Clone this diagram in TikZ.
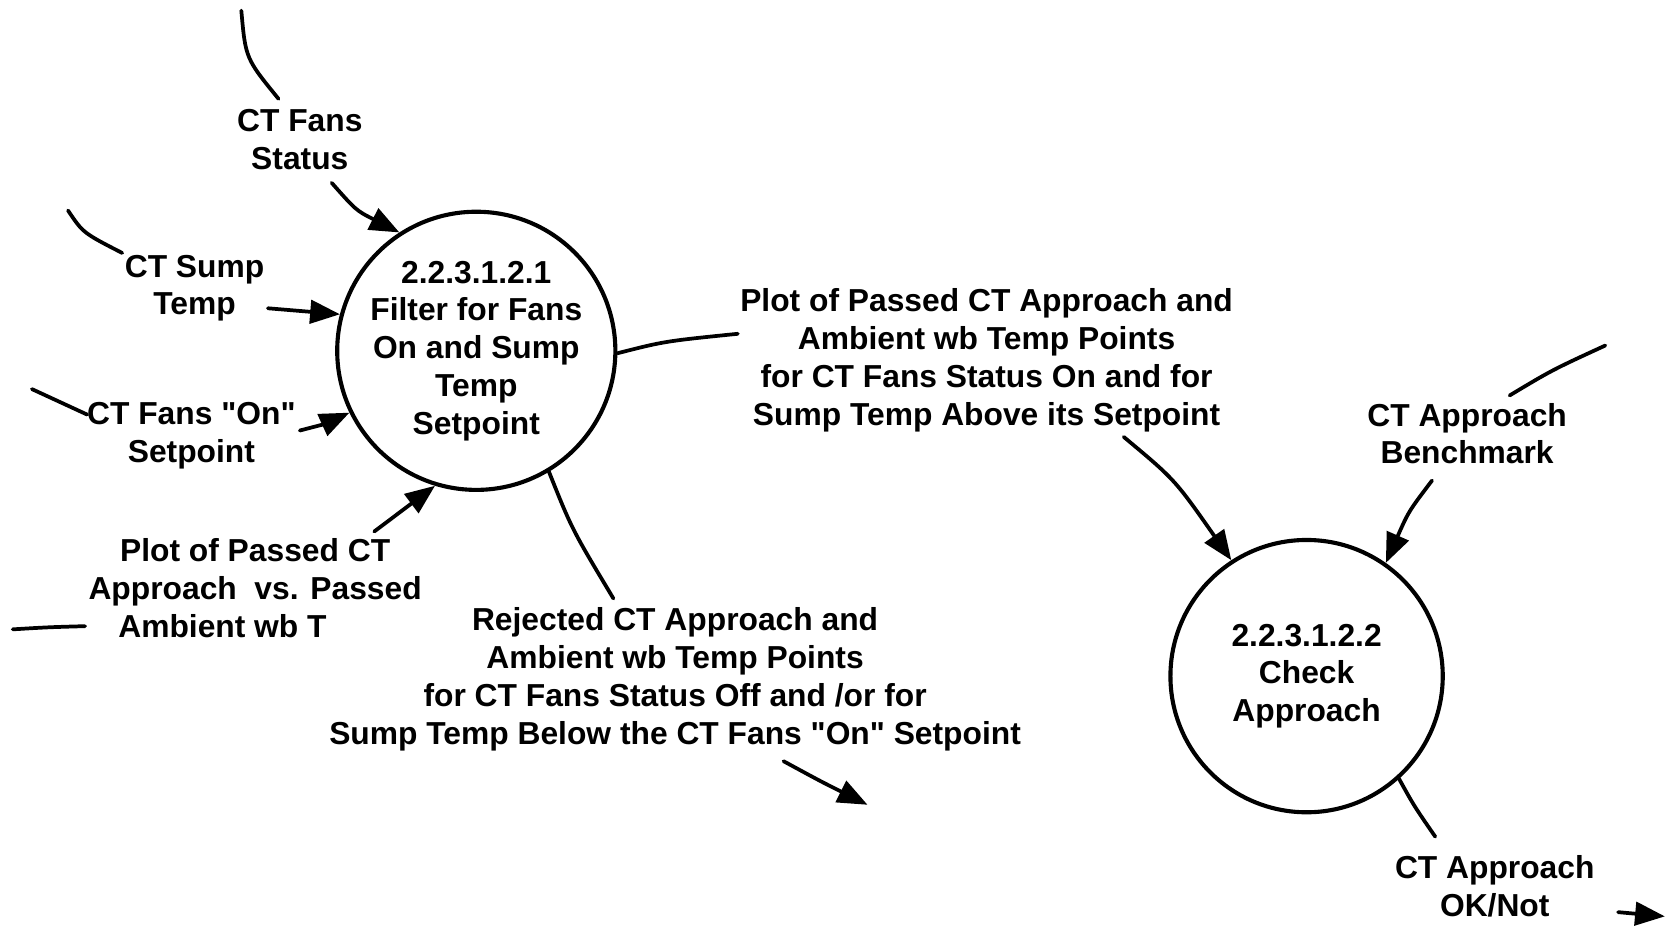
\documentclass[tikz,border=0pt]{standalone}
\usepackage{fontspec}
\setmainfont{Liberation Sans}[Ligatures=TeXOff]
\usetikzlibrary{arrows.meta}

\begin{document}
\begin{tikzpicture}[x=0.01cm, y=0.01cm,
		process/.style={draw, circle, line width=1.1pt, minimum size=2.56cm, inner sep=0pt, align=center, font=\bfseries\fontsize{8.5}{10.1}\selectfont},
		flowlabel/.style={align=center, inner sep=0pt, font=\bfseries\fontsize{8.5}{10.1}\selectfont},
		flow/.style={line width=1pt, line cap=round},
		into/.style={flow, -{Triangle[length=0.28cm, width=0.22cm]}}]
		\useasboundingbox (0,0) rectangle (1568,883);
		\node [process] (filter) at (448,553) {2.2.3.1.2.1\\Filter for Fans\\On and Sump\\Temp\\Setpoint};
		\node [process] (check) at (1229,247) {2.2.3.1.2.2\\Check\\Approach};

		\node [flowlabel] (status) at (282,752) {CT Fans\\Status};
		\coordinate (statustop) at (227,873);
		\coordinate (statusend) at (262,790);
		\coordinate (statustail) at (312,711);
		\draw [flow] (statustop) .. controls (231,828) .. (statusend);
		\draw [into] (statustail) .. controls (335,685) .. (filter.123);

		\node [flowlabel] (sump) at (183,612) {CT Sump\\Temp};
		\coordinate (sumptop) at (64,685);
		\coordinate (sumpend) at (115,645);
		\coordinate (sumptail) at (252,593);
		\draw [flow] (sumptop) .. controls (78,664) .. (sumpend);
		\draw [into] (sumptail) -- (filter.165);

		\node [flowlabel] (onset) at (180,473) {CT Fans "On"\\Setpoint};
		\coordinate (onsettop) at (30,517);
		\coordinate (onsetend) at (82,493);
		\coordinate (onsettail) at (282,478);
		\draw [flow] (onsettop) -- (onsetend);
		\draw [into] (onsettail) .. controls (305,484) .. (filter.206);

		\node [flowlabel] (plotin) at (240,327) {Plot of Passed CT\\Approach~ vs. Passed\\Ambient wb T\phantom{emp}};
		\coordinate (plotinleft) at (12,291);
		\coordinate (plotinend) at (80,294);
		\coordinate (plotintail) at (352,383);
		\draw [flow] (plotinleft) .. controls (45,293) .. (plotinend);
		\draw [into] (plotintail) -- (filter.253);

		\node [flowlabel] (passed) at (928,544) {Plot of Passed CT Approach and\\Ambient wb Temp Points\\for CT Fans Status On and for\\Sump Temp Above its Setpoint};
		\coordinate (passedend) at (694,569);
		\coordinate (passedtail) at (1057,472);
		\draw [flow] (filter.-1) .. controls (625,562) .. (passedend);
		\draw [into] (passedtail) .. controls (1105,432) .. (check.123);

		\node [flowlabel] (rejected) at (635,244) {Rejected CT Approach and\\Ambient wb Temp Points\\for CT Fans Status Off and /or for\\Sump Temp Below the CT Fans "On" Setpoint};
		\coordinate (rejectedend) at (577,320);
		\coordinate (rejectedtail) at (737,167);
		\coordinate (rejectedhead) at (816,126);
		\draw [flow] (filter.-59) .. controls (538,385) .. (rejectedend);
		\draw [into] (rejectedtail) .. controls (772,148) .. (rejectedhead);

		\node [flowlabel] (bench) at (1380,475) {CT Approach\\Benchmark};
		\coordinate (benchtop) at (1510,558);
		\coordinate (benchend) at (1420,511);
		\coordinate (benchtail) at (1347,431);
		\draw [flow] (benchtop) .. controls (1460,535) .. (benchend);
		\draw [into] (benchtail) .. controls (1325,402) .. (check.55);

		\node [flowlabel] (approachok) at (1406,49) {CT Approach\\OK/Not};
		\coordinate (approachokend) at (1350,96);
		\coordinate (approachoktail) at (1522,25);
		\coordinate (approachokhead) at (1566,21);
		\draw [flow] (check.-48) .. controls (1330,125) .. (approachokend);
		\draw [into] (approachoktail) -- (approachokhead);
	\end{tikzpicture}
\end{document}
